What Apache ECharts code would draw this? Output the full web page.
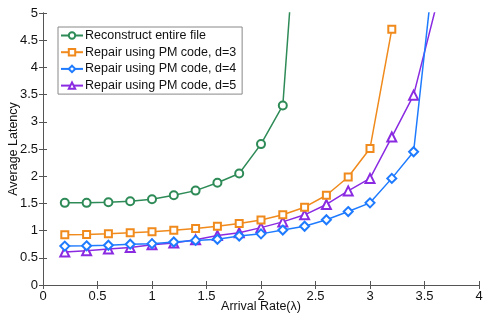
<!DOCTYPE html>
<html>
<head>
<meta charset="utf-8">
<script src="https://cdn.jsdelivr.net/npm/echarts@6/dist/echarts.min.js"></script>
<style>html,body{margin:0;padding:0;background:#fff}#c{width:499px;height:319px}</style>
</head>
<body>
<div id="c"></div>
<script>
var xValues = [0.2,0.4,0.6,0.8,1.0,1.2,1.4,1.6,1.8,2.0,2.2,2.4,2.6,2.8,3.0,3.2,3.4,3.6];
var reconstruct = [1.51,1.51,1.52,1.54,1.575,1.65,1.735,1.88,2.05,2.59,3.30,8.8];
var pmD3 = [0.925,0.93,0.94,0.96,0.98,1.005,1.04,1.08,1.13,1.195,1.29,1.43,1.65,1.985,2.51,4.70];
var pmD4 = [0.715,0.72,0.73,0.75,0.76,0.79,0.82,0.84,0.90,0.94,1.01,1.08,1.20,1.35,1.51,1.96,2.45,6.1];
var pmD5 = [0.605,0.63,0.66,0.69,0.74,0.77,0.83,0.91,0.96,1.055,1.16,1.29,1.48,1.73,1.96,2.72,3.49,5.07];
var seriesNames = ['Reconstruct entire file','Repair using PM code, d=3','Repair using PM code, d=4','Repair using PM code, d=5'];
var xTicks = [0,0.5,1,1.5,2,2.5,3,3.5,4];
var yTicks = [0,0.5,1,1.5,2,2.5,3,3.5,4,4.5,5];

function pairs(vals){ return vals.map(function(v,i){ return [xValues[i], v]; }); }
var colors = ['#2E8B57','#F08A1C','#1E7BFF','#8A2BE2'];
var symbols = ['emptyCircle','emptyRect','emptyDiamond','emptyTriangle'];
var sizes = [8,7,9,9];
var dataSets = [reconstruct,pmD3,pmD4,pmD5];
var font = 'Liberation Sans, Arial, sans-serif';

var chart = echarts.init(document.getElementById('c'), null, {renderer:'canvas'});
var axisLine = {show:true, lineStyle:{color:'#555', width:1}};
var tickStyle = {show:true, inside:true, length:4, lineStyle:{color:'#555'}};
chart.setOption({
  animation:false,
  backgroundColor:'#fff',
  grid:{left:43, right:20, top:13, bottom:34, containLabel:false, outerBoundsMode:'none'},
  legend:{
    data:seriesNames, orient:'vertical', left:58, top:27,
    itemWidth:22, itemHeight:8, itemGap:3.7,
    borderColor:'#888', borderWidth:1, backgroundColor:'#fff',
    padding:[2,6,2,2],
    textStyle:{fontFamily:font, fontSize:12.5, color:'#111', padding:[0,0,0,-3]}
  },
  xAxis:[{
    type:'value', min:0, max:4, interval:0.5,
    axisLine:axisLine, axisTick:tickStyle, splitLine:{show:false},
    axisLabel:{fontFamily:font, fontSize:13, color:'#111', margin:5,
      formatter:function(v){ return xTicks.indexOf(v)>=0 ? String(v) : ''; }},
    name:'Arrival Rate(λ)', nameLocation:'middle', nameGap:15, nameMoveOverlap:false,
    nameTextStyle:{fontFamily:font, fontSize:12.5, color:'#111'}
  },{
    type:'value', min:0, max:4, interval:0.5, position:'top',
    axisLine:axisLine, axisTick:tickStyle, axisLabel:{show:false}, splitLine:{show:false}
  }],
  yAxis:[{
    type:'value', min:0, max:5, interval:0.5,
    axisLine:axisLine, axisTick:tickStyle, splitLine:{show:false},
    axisLabel:{fontFamily:font, fontSize:13, color:'#111', margin:5,
      formatter:function(v){ return yTicks.indexOf(v)>=0 ? String(v) : ''; }},
    name:'Average Latency', nameLocation:'middle', nameGap:23, nameMoveOverlap:false,
    nameTextStyle:{fontFamily:font, fontSize:12.5, color:'#111'}
  },{
    type:'value', min:0, max:5, interval:0.5, position:'right',
    axisLine:axisLine, axisTick:tickStyle, axisLabel:{show:false}, splitLine:{show:false}
  }],
  series: dataSets.map(function(d,i){
    return {
      name:seriesNames[i], type:'line', data:pairs(d), clip:true,
      symbol:symbols[i], symbolSize:sizes[i], showAllSymbol:true,
      lineStyle:{color:colors[i], width:1.5},
      itemStyle:{color:colors[i], borderWidth:1.5},
      z: 10-i
    };
  })
});
</script>
</body>
</html>
